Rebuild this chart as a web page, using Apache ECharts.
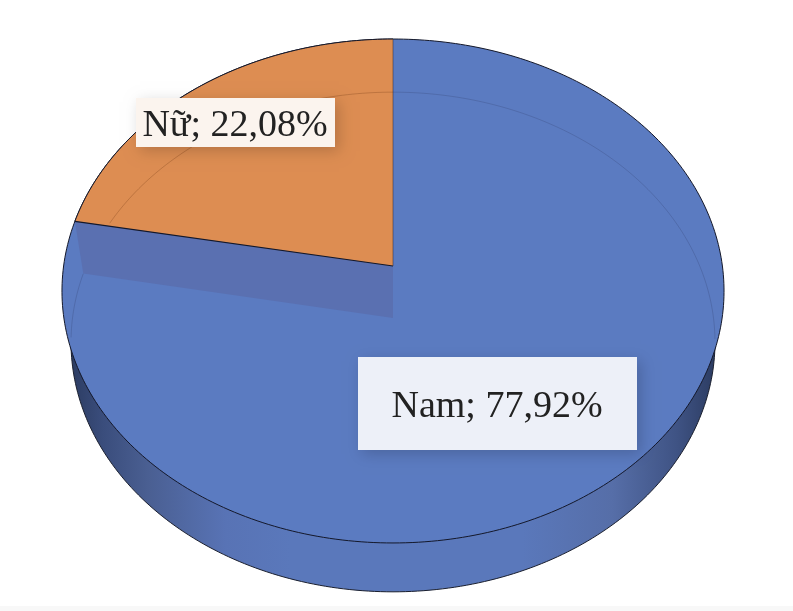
<!DOCTYPE html>
<html>
<head>
<meta charset="utf-8">
<style>html,body{margin:0;padding:0;background:#fff}#chart{width:793px;height:611px;filter:blur(0.35px)}</style>
<script src="https://cdn.jsdelivr.net/npm/echarts@6/dist/echarts.min.js"></script>
</head>
<body>
<div id="chart"></div>
<script>
const categories = ['Nam', 'Nữ'];
const shareValues = [77.92, 22.08];

// perspective projection of the two discs (top face and bottom face)
const topDisc = { cx: 393, ax: 329.4, ay: -223.1, by: 266, k: 0.0992 };
const botDisc = { cx: 393, ax: 320.5, ay: -217, by: 318, k: 0.096 };
const labelBoxes = [
  { x: 358, y: 357, w: 279, h: 93, fill: '#edf0f8' },
  { x: 136, y: 98, w: 199, h: 49, fill: '#fbf4ee' }
];
const faceColors = ['#5b7bc1', '#dd8d52'];
const total = shareValues.reduce((a, b) => a + b, 0);

function project(d, t) {
  const s = Math.sin(t), p = Math.cos(t), den = 1 + d.k * p;
  return [d.cx + d.ax * s / den, (d.ay * p + d.by) / den];
}
function arc(d, a0, a1) {
  const n = Math.max(2, Math.ceil((a1 - a0) / (Math.PI / 180)));
  const pts = [];
  for (let i = 0; i <= n; i++) pts.push(project(d, a0 + (a1 - a0) * i / n));
  return pts;
}
function apex(d) { return [d.cx, d.by]; }
// keep only the runs of points that pass the test, as separate polylines
function runs(points, test) {
  const out = [];
  let cur = [];
  points.forEach(q => {
    if (test(q)) cur.push(q);
    else { if (cur.length > 1) out.push(cur); cur = []; }
  });
  if (cur.length > 1) out.push(cur);
  return out;
}

function renderItem(params, api) {
  const idx = params.dataIndex;
  const share = api.value(1);
  let before = 0;
  for (let i = 0; i < idx; i++) before += shareValues[i];
  const a0 = before / total * 2 * Math.PI;
  const a1 = (before + share) / total * 2 * Math.PI;
  const children = [];

  if (idx === 0) {
    // outer wall
    children.push({
      type: 'polygon',
      shape: { points: arc(botDisc, 0, 2 * Math.PI) },
      style: {
        fill: new echarts.graphic.LinearGradient(0, 0, 1, 0, [
          { offset: 0, color: '#2c3c62' },
          { offset: 0.05, color: '#3a4d7c' },
          { offset: 0.12, color: '#4a5f92' },
          { offset: 0.24, color: '#5873b5' },
          { offset: 0.34, color: '#5a78bb' },
          { offset: 0.7, color: '#5a78bb' },
          { offset: 0.84, color: '#566ea8' },
          { offset: 0.94, color: '#3f5384' },
          { offset: 1, color: '#2c3c62' }
        ]),
        stroke: '#1a1f2e', lineWidth: 1
      }
    });
    // whole top disc in the main colour
    children.push({
      type: 'polygon',
      shape: { points: arc(topDisc, 0, 2 * Math.PI) },
      style: { fill: faceColors[0], stroke: '#14182a', lineWidth: 1 }
    });
    // ring of the bottom disc seen through the face
    runs(arc(botDisc, a0, a1), q => {
      const dy = (q[1] - 291) / 252, dx = (q[0] - topDisc.cx) / 331;
      return dx * dx + dy * dy < 0.985;
    }).forEach(points => children.push({
      type: 'polyline',
      shape: { points },
      style: { stroke: 'rgba(40,50,90,0.22)', lineWidth: 1, fill: null }
    }));
  } else {
    const e0 = project(topDisc, a0), e1 = project(botDisc, a0);
    // inner wall left bare by the slice
    children.push({
      type: 'polygon',
      shape: { points: [apex(topDisc), e0, e1, apex(botDisc)] },
      style: { fill: '#5a70b1', stroke: null }
    });
    children.push({
      type: 'polygon',
      shape: { points: [apex(topDisc)].concat(arc(topDisc, a0, a1)) },
      style: { fill: faceColors[1], stroke: null }
    });
    // ring visible through the slice
    const A = apex(topDisc);
    runs(arc(botDisc, a0, a1), q =>
      (e0[0] - A[0]) * (q[1] - A[1]) - (e0[1] - A[1]) * (q[0] - A[0]) > 0
    ).forEach(points => children.push({
      type: 'polyline',
      shape: { points },
      style: { stroke: 'rgba(130,70,30,0.35)', lineWidth: 1, fill: null }
    }));
    children.push({
      type: 'polyline',
      shape: { points: arc(topDisc, a0, a1) },
      style: { stroke: '#14182a', lineWidth: 1, fill: null }
    });
    children.push({
      type: 'polyline',
      shape: { points: [e0, A] },
      style: { stroke: '#14182a', lineWidth: 1.2, fill: null }
    });
    children.push({
      type: 'polyline',
      shape: { points: [A, project(topDisc, a1)] },
      style: { stroke: 'rgba(60,50,60,0.55)', lineWidth: 1, fill: null }
    });
  }

  const box = labelBoxes[idx];
  children.push({
    type: 'rect',
    shape: { x: box.x, y: box.y, width: box.w, height: box.h },
    style: {
      fill: box.fill,
      shadowBlur: 14, shadowColor: 'rgba(0,0,0,0.18)',
      shadowOffsetX: 4, shadowOffsetY: 4
    }
  });
  children.push({
    type: 'text',
    style: {
      text: categories[idx] + '; ' + share.toFixed(2).replace('.', ',') + '%',
      x: box.x + box.w / 2 - 0.5,
      y: box.y + box.h / 2 + 3.5,
      fill: '#222222',
      font: '38px "Liberation Serif", "Times New Roman", serif',
      textAlign: 'center',
      textVerticalAlign: 'middle'
    }
  });
  return { type: 'group', children };
}

const chart = echarts.init(document.getElementById('chart'), null, { renderer: 'canvas' });
chart.setOption({
  animation: false,
  backgroundColor: '#ffffff',
  graphic: [{
    type: 'rect', z: -1, silent: true,
    shape: { x: 0, y: 606, width: 793, height: 5 },
    style: { fill: '#f8f8f8' }
  }],
  series: [{
    type: 'custom',
    coordinateSystem: 'none',
    silent: true,
    renderItem,
    data: categories.map((name, i) => ({ name, value: [i, shareValues[i]] }))
  }]
});
</script>
</body>
</html>
